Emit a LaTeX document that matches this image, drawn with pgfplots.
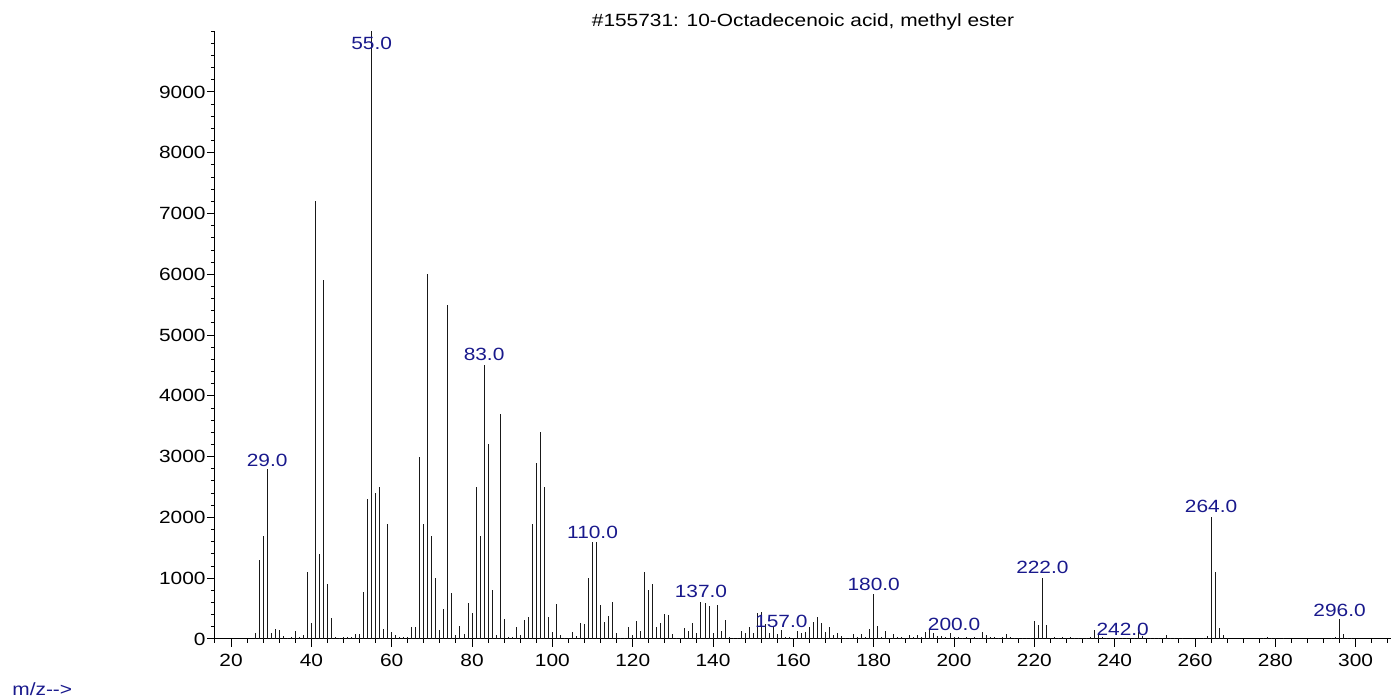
\documentclass[border=0pt]{standalone}
\usepackage{fontspec}
\setmainfont{Liberation Sans}[FakeStretch=1.18]
\usepackage{pgfplots}
\pgfplotsset{compat=1.18}
\usepackage{pgfplotstable}
\definecolor{lblue}{RGB}{25,25,140}
\newcommand\chartfont{\fontsize{8.85pt}{10pt}\selectfont}
\pgfplotstableread{
mz int
26 100
27 1300
28 1700
29 2800
30 100
31 170
32 150
33 50
34 10
35 30
36 130
37 40
38 70
39 1100
40 270
41 7200
42 1400
43 5900
44 900
45 350
46 40
47 10
48 30
49 30
50 40
51 80
52 80
53 770
54 2300
55 9999
56 2400
57 2500
58 170
59 1900
60 120
61 60
62 40
63 40
64 30
65 200
66 200
67 3000
68 1900
69 6000
70 1700
71 1000
72 150
73 500
74 5500
75 750
76 70
77 220
78 90
79 600
80 420
81 2500
82 1700
83 4500
84 3200
85 800
86 70
87 3700
88 330
89 40
90 30
91 200
92 70
93 320
94 370
95 1900
96 2900
97 3400
98 2500
99 370
100 120
101 570
102 70
103 20
104 20
105 120
106 50
107 270
108 250
109 1000
110 1600
111 1600
112 560
113 280
114 380
115 610
116 100
117 20
118 10
119 190
120 70
121 290
122 130
123 1100
124 800
125 900
126 190
127 270
128 410
129 400
130 90
131 20
132 10
133 180
134 130
135 270
136 100
137 610
138 600
139 540
140 100
141 560
142 130
143 320
144 30
145 10
146 10
147 137
148 93
149 190
150 104
151 423
152 440
153 247
154 93
155 214
156 82
157 148
158 38
159 38
160 10
161 126
162 93
163 115
164 203
165 286
166 357
167 258
168 115
169 203
170 66
171 104
172 50
173 20
174 20
175 80
176 30
177 80
178 30
179 170
180 735
181 210
182 40
183 130
184 20
185 90
186 30
187 40
188 10
189 60
190 30
191 60
192 40
193 115
194 150
195 93
196 50
197 50
198 40
199 104
200 38
201 30
202 20
203 30
204 20
205 30
206 20
207 115
208 71
209 38
210 30
211 20
212 30
213 77
214 40
215 20
216 20
217 10
218 20
219 20
220 297
221 231
222 1000
223 231
224 20
225 30
226 10
227 30
228 10
229 30
230 10
231 10
232 20
233 10
234 30
235 150
236 66
237 30
238 20
239 10
240 10
241 10
242 10
243 20
244 10
245 20
246 121
247 50
248 20
249 20
250 20
251 10
252 10
253 60
254 20
255 20
256 10
257 10
262 10
263 50
264 2000
265 1100
266 187
267 66
268 20
277 20
278 30
279 20
280 10
282 10
294 20
295 30
296 324
297 82
298 20
299 10
}\spectrum
\begin{document}
\begin{tikzpicture}[font=\chartfont]
\path[use as bounding box] (-107.5pt,-30.5pt) rectangle (588.5pt,319.5pt);
\begin{axis}[
  at={(0,0)}, anchor=south west,
  scale only axis, width=588pt, height=303.9pt,
  xmin=16, xmax=308.8, ymin=0, ymax=10000,
  axis x line*=bottom, axis y line*=left,
  axis line style={-, black, line width=0.5pt},
  xtick={20,40,...,300},
  minor xtick={16,20,...,308},
  ytick={0,1000,...,9000},
  minor ytick={0,200,...,10000},
  scaled y ticks=false, scaled x ticks=false,
  tick align=outside,
  major tick length=4pt, minor tick length=2pt,
  tick style={black, line width=0.5pt},
  /pgf/number format/assume math mode=true,
  /pgf/number format/1000 sep={},
  every tick label/.append style={font=\chartfont},
  yticklabel style={inner xsep=0.5pt, /pgf/number format/fixed, /pgf/number format/precision=0},
  clip=false,
]
\addplot[ycomb, black!90, line width=0.5pt, mark=none] table[x=mz, y=int] {\spectrum};
\node[anchor=base, text=lblue] at (axis cs:29,2845) {29.0};
\node[anchor=base, text=lblue] at (axis cs:55,9700) {55.0};
\node[anchor=base, text=lblue] at (axis cs:83,4580) {83.0};
\node[anchor=base, text=lblue] at (axis cs:110,1655) {110.0};
\node[anchor=base, text=lblue] at (axis cs:137,675) {137.0};
\node[anchor=base, text=lblue] at (axis cs:157,188) {157.0};
\node[anchor=base, text=lblue] at (axis cs:180,796) {180.0};
\node[anchor=base, text=lblue] at (axis cs:200,133) {200.0};
\node[anchor=base, text=lblue] at (axis cs:222,1072) {222.0};
\node[anchor=base, text=lblue] at (axis cs:242,50) {242.0};
\node[anchor=base, text=lblue] at (axis cs:264,2077) {264.0};
\node[anchor=base, text=lblue] at (axis cs:296,365) {296.0};
\node[anchor=base] at ([yshift=2.25pt]rel axis cs:0.5,1) {\#155731: 10-Octadecenoic acid, methyl ester};
\node[anchor=base west, text=lblue, inner sep=0pt] at ([shift={(-101.5pt,-28.5pt)}]rel axis cs:0,0) {m/z-{}-{}>};
\end{axis}
\end{tikzpicture}
\end{document}
